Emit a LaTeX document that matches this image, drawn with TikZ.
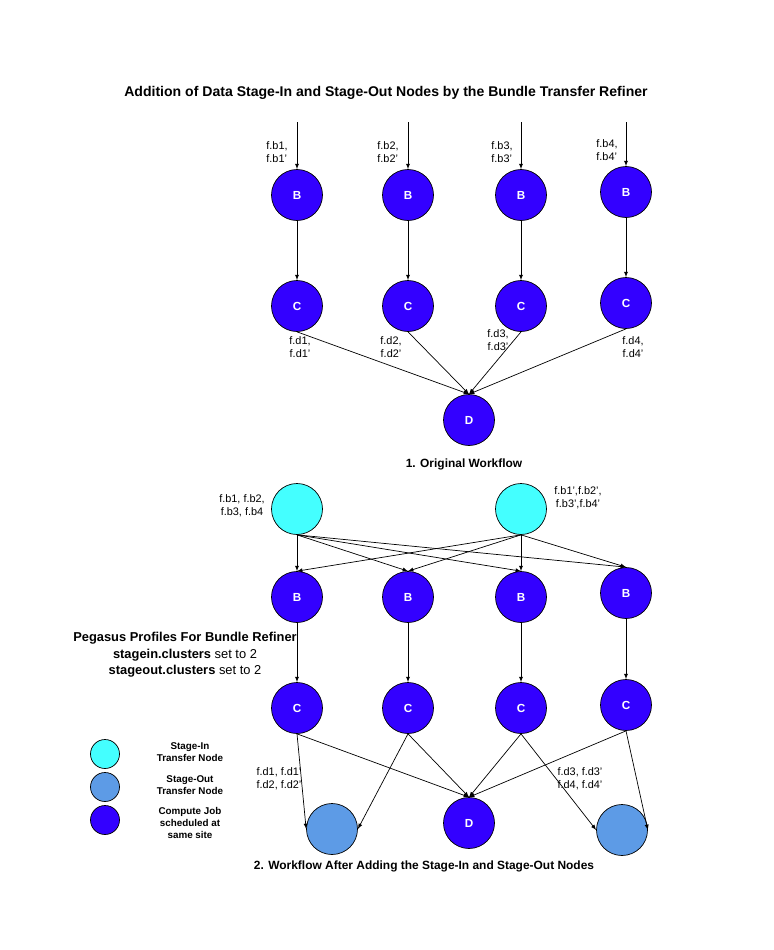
\documentclass[tikz,border=0pt]{standalone}
\usepackage{fontspec}
\setmainfont{Liberation Sans}
\usetikzlibrary{arrows}
\definecolor{jobblue}{RGB}{51,0,255}
\definecolor{stageincol}{RGB}{68,255,255}
\definecolor{stageoutcol}{RGB}{93,155,230}

\begin{document}
\begin{tikzpicture}[x=0.03cm,y=-0.03cm,line width=0.6pt,
  job/.style={circle,draw,fill=jobblue,minimum size=1.53cm,inner sep=0pt,text=white,font=\fontsize{10}{11}\selectfont\bfseries},
  xfer/.style={circle,draw,minimum size=1.53cm,inner sep=0pt},
  legend/.style={circle,draw,minimum size=0.87cm,inner sep=0pt},
  flbl/.style={align=left,inner sep=0pt,font=\fontsize{9.3}{11}\selectfont},
  clbl/.style={align=center,inner sep=0pt,font=\fontsize{9.3}{11}\selectfont},
  heading/.style={inner sep=0pt,font=\fontsize{10.2}{12}\selectfont\bfseries},
  legtext/.style={align=center,inner sep=0pt,font=\fontsize{8.4}{10.5}\selectfont\bfseries}]

\useasboundingbox (0,0) rectangle (773,950);

\node[inner sep=0pt,font=\fontsize{12}{14}\selectfont\bfseries] (title) at (386,93) {Addition of Data Stage-In and Stage-Out Nodes by the Bundle Transfer Refiner};

% 1. original workflow
\coordinate (t1) at (297,122);
\coordinate (t2) at (408,122);
\coordinate (t3) at (521,122);
\coordinate (t4) at (626,122);
\node[job] (b1) at (297,195) {B};
\node[job] (b2) at (408,195) {B};
\node[job] (b3) at (521,195) {B};
\node[job] (b4) at (626,192) {B};
\node[job] (c1) at (297,306) {C};
\node[job] (c2) at (408,306) {C};
\node[job] (c3) at (521,306) {C};
\node[job] (c4) at (626,303) {C};
\node[job] (d) at (469,420) {D};
\draw [-latex] (t1) -- (b1);
\draw [-latex] (t2) -- (b2);
\draw [-latex] (t3) -- (b3);
\draw [-latex] (t4) -- (b4);
\draw [-latex] (b1) -- (c1);
\draw [-latex] (b2) -- (c2);
\draw [-latex] (b3) -- (c3);
\draw [-latex] (b4) -- (c4);
\draw [-latex] (c1.south) -- (d.north);
\draw [-latex] (c2.south) -- (d.north);
\draw [-latex] (c3.south) -- (d.north);
\draw [-latex] (c4.south) -- (d.north);
\node[flbl] (fb1) at (277,152) {f.b1,\\f.b1'};
\node[flbl] (fb2) at (388,152) {f.b2,\\f.b2'};
\node[flbl] (fb3) at (502,152) {f.b3,\\f.b3'};
\node[flbl] (fb4) at (607,150) {f.b4,\\f.b4'};
\node[clbl] (fd1) at (300,347) {f.d1,\\f.d1'};
\node[clbl] (fd2) at (391,347) {f.d2,\\f.d2'};
\node[clbl] (fd3) at (498,340) {f.d3,\\f.d3'};
\node[clbl] (fd4) at (633,347) {f.d4,\\f.d4'};
\node[heading] (sec1) at (464,464) {1. Original Workflow};

% 2. workflow with stage-in and stage-out nodes
\node[xfer,fill=stageincol] (si1) at (297,509) {};
\node[xfer,fill=stageincol] (si2) at (521,509) {};
\node[job] (b5) at (297,597) {B};
\node[job] (b6) at (408,597) {B};
\node[job] (b7) at (521,597) {B};
\node[job] (b8) at (626,593) {B};
\node[job] (c5) at (297,708) {C};
\node[job] (c6) at (408,708) {C};
\node[job] (c7) at (521,708) {C};
\node[job] (c8) at (626,705) {C};
\node[xfer,fill=stageoutcol] (so1) at (332,829) {};
\node[job] (d2) at (469,823) {D};
\node[xfer,fill=stageoutcol] (so2) at (622,830) {};
\foreach \b in {b5,b6,b7,b8} {
  \draw [-latex] (si1.south) -- (\b.north);
  \draw [-latex] (si2.south) -- (\b.north);
}
\draw [-latex] (b5) -- (c5);
\draw [-latex] (b6) -- (c6);
\draw [-latex] (b7) -- (c7);
\draw [-latex] (b8) -- (c8);
\draw [-latex] (c5.south) -- (so1.west);
\draw [-latex] (c6.south) -- (so1.east);
\draw [-latex] (c5.south) -- (d2.north);
\draw [-latex] (c6.south) -- (d2.north);
\draw [-latex] (c7.south) -- (d2.north);
\draw [-latex] (c8.south) -- (d2.north);
\draw [-latex] (c7.south) -- (so2.west);
\draw [-latex] (c8.south) -- (so2.east);
\node[clbl] (fbin1) at (242,506) {f.b1, f.b2,\\f.b3, f.b4};
\node[clbl] (fbin2) at (578,498) {f.b1',f.b2',\\f.b3',f.b4'};
\node[flbl] (fdout1) at (279,779) {f.d1, f.d1'\\f.d2, f.d2'};
\node[flbl] (fdout2) at (580,779) {f.d3, f.d3'\\f.d4, f.d4'};
\node[align=center,inner sep=0pt,font=\fontsize{11}{14}\selectfont] (prof) at (185,655)
  {\textbf{Pegasus Profiles For Bundle Refiner}\\\textbf{stagein.clusters} set to 2\\\textbf{stageout.clusters} set to 2};
\node[heading] (sec2) at (424,866) {2. Workflow After Adding the Stage-In and Stage-Out Nodes};

% legend
\node[legend,fill=stageincol] (l1) at (105,754) {};
\node[legend,fill=stageoutcol] (l2) at (105,787) {};
\node[legend,fill=jobblue] (l3) at (105,820) {};
\node[legtext] (lt1) at (190,752) {Stage-In\\Transfer Node};
\node[legtext] (lt2) at (190,785) {Stage-Out\\Transfer Node};
\node[legtext] (lt3) at (190,823) {Compute Job\\scheduled at\\same site};
\end{tikzpicture}
\end{document}
